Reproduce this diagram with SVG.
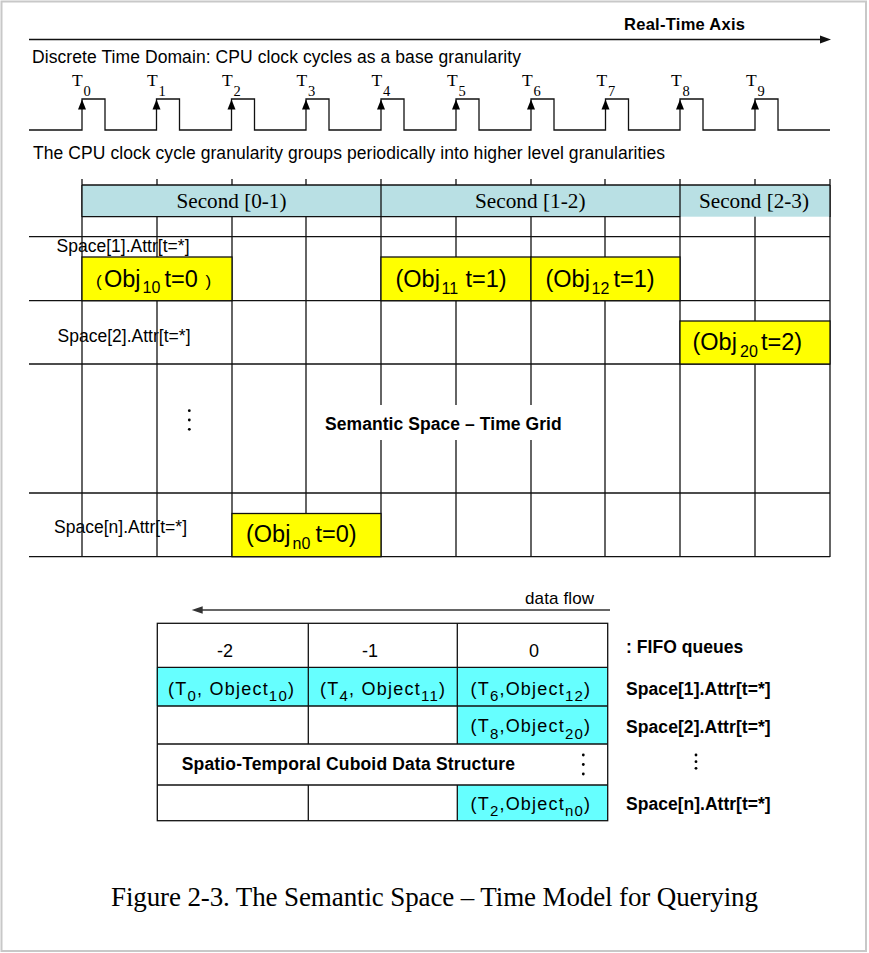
<svg xmlns="http://www.w3.org/2000/svg" xmlns:xlink="http://www.w3.org/1999/xlink" width="869" height="953" viewBox="0 0 869 953">
<style>
.sans{font-family:"Liberation Sans",Arial,sans-serif;fill:#000}
.bold{font-family:"Liberation Sans",Arial,sans-serif;font-weight:bold;fill:#000}
.serif{font-family:"Liberation Serif","Times New Roman",serif;fill:#000}
.ln{stroke:#111;stroke-width:1.3;fill:none}
.yel{fill:#ffff00;stroke:#111;stroke-width:1.3}
.cy{fill:#66ffff}
.obj{font-family:"Liberation Sans",Arial,sans-serif;font-size:23.5px;fill:#000}
.osub{font-size:16px}
.sub{font-size:15px}
.fifo{font-family:"Liberation Sans",Arial,sans-serif;font-size:18px;fill:#000}
</style>
<defs>
<path id="clkArrow" d="M0,99.5 L-4,109.5 L4,109.5 Z" fill="#000"/>
</defs>
<rect x="0" y="0" width="869" height="953" fill="#ffffff"/>
<rect x="1.5" y="1.5" width="864.5" height="949.5" fill="#ffffff" stroke="#c8c8c8" stroke-width="2"/>

<g id="realtime-axis">
<text class="bold" x="624" y="30" font-size="16.5" textLength="121">Real-Time Axis</text>
<line x1="29" y1="39.5" x2="822" y2="39.5" stroke="#111" stroke-width="1.4"/>
<polygon points="831,39.5 820,35.6 820,43.4" fill="#111"/>
</g>

<g id="clock">
<text class="sans" x="32" y="63.3" font-size="17.5" textLength="489">Discrete Time Domain: CPU clock cycles as a base granularity</text>
<path class="ln" d="M29,130 H82 V99 H105 V130 H156.5 V99 H179.5 V130 H231.5 V99 H254.5 V130 H306 V99 H329 V130 H381 V99 H404 V130 H456 V99 H479 V130 H531 V99 H554 V130 H605.5 V99 H628.5 V130 H680 V99 H703 V130 H755 V99 H778 V130 H830"/>
<use xlink:href="#clkArrow" x="82"/>
<use xlink:href="#clkArrow" x="156.5"/>
<use xlink:href="#clkArrow" x="231.5"/>
<use xlink:href="#clkArrow" x="306"/>
<use xlink:href="#clkArrow" x="381"/>
<use xlink:href="#clkArrow" x="456"/>
<use xlink:href="#clkArrow" x="531"/>
<use xlink:href="#clkArrow" x="605.5"/>
<use xlink:href="#clkArrow" x="680"/>
<use xlink:href="#clkArrow" x="755"/>
<text class="serif" font-size="17.5"><tspan x="72" y="85.5">T</tspan><tspan x="83.5" y="95.5" font-size="14.5">0</tspan></text>
<text class="serif" font-size="17.5"><tspan x="147" y="85.5">T</tspan><tspan x="158.5" y="95.5" font-size="14.5">1</tspan></text>
<text class="serif" font-size="17.5"><tspan x="222" y="85.5">T</tspan><tspan x="233.5" y="95.5" font-size="14.5">2</tspan></text>
<text class="serif" font-size="17.5"><tspan x="296.5" y="85.5">T</tspan><tspan x="308" y="95.5" font-size="14.5">3</tspan></text>
<text class="serif" font-size="17.5"><tspan x="371.5" y="85.5">T</tspan><tspan x="383" y="95.5" font-size="14.5">4</tspan></text>
<text class="serif" font-size="17.5"><tspan x="447" y="85.5">T</tspan><tspan x="458.5" y="95.5" font-size="14.5">5</tspan></text>
<text class="serif" font-size="17.5"><tspan x="522" y="85.5">T</tspan><tspan x="533.5" y="95.5" font-size="14.5">6</tspan></text>
<text class="serif" font-size="17.5"><tspan x="596.5" y="85.5">T</tspan><tspan x="608" y="95.5" font-size="14.5">7</tspan></text>
<text class="serif" font-size="17.5"><tspan x="671" y="85.5">T</tspan><tspan x="682.5" y="95.5" font-size="14.5">8</tspan></text>
<text class="serif" font-size="17.5"><tspan x="746" y="85.5">T</tspan><tspan x="757.5" y="95.5" font-size="14.5">9</tspan></text>
<text class="sans" x="33" y="158.5" font-size="17.5" textLength="632">The CPU clock cycle granularity groups periodically into higher level granularities</text>
</g>

<g id="grid">
<text class="sans" x="56.5" y="252.3" font-size="17.5" textLength="133">Space[1].Attr[t=*]</text>
<text class="sans" x="57.5" y="341.7" font-size="17.5" textLength="133">Space[2].Attr[t=*]</text>
<text class="sans" x="54" y="533.3" font-size="17.5" textLength="133">Space[n].Attr[t=*]</text>
<g class="ln">
<line x1="82" y1="179" x2="82" y2="557"/>
<line x1="157" y1="179" x2="157" y2="557"/>
<line x1="232" y1="179" x2="232" y2="557"/>
<line x1="306" y1="179" x2="306" y2="557"/>
<line x1="381" y1="179" x2="381" y2="557"/>
<line x1="456" y1="179" x2="456" y2="557"/>
<line x1="531" y1="179" x2="531" y2="557"/>
<line x1="605" y1="179" x2="605" y2="557"/>
<line x1="680" y1="179" x2="680" y2="557"/>
<line x1="755" y1="179" x2="755" y2="557"/>
<line x1="830" y1="179" x2="830" y2="557"/>
<line x1="29" y1="236.7" x2="830" y2="236.7"/>
<line x1="29" y1="300.7" x2="830" y2="300.7"/>
<line x1="29" y1="364" x2="830" y2="364"/>
<line x1="29" y1="493" x2="830" y2="493"/>
<line x1="29" y1="556.7" x2="830" y2="556.7"/>
</g>
<rect x="82" y="185" width="748" height="31.7" fill="#b9e0e4"/>
<g class="ln">
<line x1="82" y1="185" x2="830" y2="185"/>
<line x1="82" y1="216.7" x2="680" y2="216.7"/>
<line x1="82" y1="185" x2="82" y2="217"/>
<line x1="381" y1="185" x2="381" y2="217"/>
<line x1="680" y1="185" x2="680" y2="217"/>
<line x1="830" y1="185" x2="830" y2="217"/>
</g>
<text class="serif" x="176.5" y="208.3" font-size="20" textLength="110" lengthAdjust="spacingAndGlyphs">Second [0-1)</text>
<text class="serif" x="475" y="208.3" font-size="20" textLength="110.5" lengthAdjust="spacingAndGlyphs">Second [1-2)</text>
<text class="serif" x="699" y="208.3" font-size="20" textLength="110" lengthAdjust="spacingAndGlyphs">Second [2-3)</text>
<rect x="318" y="405" width="250" height="35" fill="#ffffff"/>
<text class="bold" x="325" y="430" font-size="17.5" textLength="236.7">Semantic Space – Time Grid</text>
<circle cx="189.3" cy="410.7" r="1.4" fill="#000"/>
<circle cx="189.3" cy="420" r="1.4" fill="#000"/>
<circle cx="189.3" cy="429.3" r="1.4" fill="#000"/>
</g>

<g id="obj10">
<rect class="yel" x="82" y="257" width="150" height="43.7"/>
<text class="obj"><tspan x="96" y="286.7" font-size="17">(</tspan><tspan x="104" y="286.7">Obj</tspan><tspan class="osub" x="142.5" y="293.3">10</tspan><tspan x="164.5" y="286.7">t=0</tspan><tspan x="205.5" y="286.7" font-size="17">)</tspan></text>
</g>
<g id="obj11">
<rect class="yel" x="381" y="257" width="150" height="43.7"/>
<text class="obj"><tspan x="395.5" y="287.3">(Obj</tspan><tspan class="osub" x="441.5" y="294">11</tspan><tspan x="465.5" y="287.3">t=1)</tspan></text>
</g>
<g id="obj12">
<rect class="yel" x="531" y="257" width="149" height="43.7"/>
<text class="obj"><tspan x="545.5" y="287.3">(Obj</tspan><tspan class="osub" x="591.5" y="294">12</tspan><tspan x="613.5" y="287.3">t=1)</tspan></text>
</g>
<g id="obj20">
<rect class="yel" x="680" y="321" width="150" height="43"/>
<text class="obj"><tspan x="692.5" y="350">(Obj</tspan><tspan class="osub" x="740" y="356.7">20</tspan><tspan x="761" y="350">t=2)</tspan></text>
</g>
<g id="objn0">
<rect class="yel" x="232" y="513.5" width="149" height="43.2"/>
<text class="obj"><tspan x="246" y="542.3">(Obj</tspan><tspan class="osub" x="292.5" y="549">n0</tspan><tspan x="315.5" y="542.3">t=0)</tspan></text>
</g>

<g id="dataflow">
<line x1="202" y1="610" x2="610" y2="610" stroke="#333" stroke-width="1.4"/>
<polygon points="191.7,610 202.7,606.2 202.7,613.8" fill="#333"/>
<text class="sans" x="525" y="604" font-size="17" textLength="69">data flow</text>
</g>

<g id="fifo-table">
<rect class="cy" x="156.5" y="667.3" width="451.2" height="38.7"/>
<rect class="cy" x="457.3" y="706" width="150.4" height="38"/>
<rect class="cy" x="457.3" y="785" width="150.4" height="35.7"/>
<g class="ln">
<rect x="157.3" y="623.3" width="450.4" height="197.4"/>
<line x1="157.3" y1="667.3" x2="607.7" y2="667.3"/>
<line x1="157.3" y1="706" x2="607.7" y2="706"/>
<line x1="157.3" y1="744" x2="607.7" y2="744"/>
<line x1="157.3" y1="785" x2="607.7" y2="785"/>
<line x1="308.3" y1="623.3" x2="308.3" y2="744"/>
<line x1="457.3" y1="623.3" x2="457.3" y2="744"/>
<line x1="308.3" y1="785" x2="308.3" y2="820.7"/>
<line x1="457.3" y1="785" x2="457.3" y2="820.7"/>
</g>
<text class="fifo" x="217" y="657.3">-2</text>
<text class="fifo" x="362" y="657.3">-1</text>
<text class="fifo" x="529" y="657.3">0</text>
<text class="fifo" x="168" y="694.5" textLength="126">(T<tspan class="sub" dy="6.5">0</tspan><tspan dy="-6.5">, Object</tspan><tspan class="sub" dy="6.5">10</tspan><tspan dy="-6.5">)</tspan></text>
<text class="fifo" x="320" y="694.5" textLength="125">(T<tspan class="sub" dy="6.5">4</tspan><tspan dy="-6.5">, Object</tspan><tspan class="sub" dy="6.5">11</tspan><tspan dy="-6.5">)</tspan></text>
<text class="fifo" x="470.5" y="694.5" textLength="119.5">(T<tspan class="sub" dy="6.5">6</tspan><tspan dy="-6.5">,Object</tspan><tspan class="sub" dy="6.5">12</tspan><tspan dy="-6.5">)</tspan></text>
<text class="fifo" x="470.5" y="732" textLength="119.5">(T<tspan class="sub" dy="6.5">8</tspan><tspan dy="-6.5">,Object</tspan><tspan class="sub" dy="6.5">20</tspan><tspan dy="-6.5">)</tspan></text>
<text class="bold" x="181.7" y="770" font-size="17.5" textLength="333.3">Spatio-Temporal Cuboid Data Structure</text>
<circle cx="583.3" cy="755" r="1.4" fill="#000"/>
<circle cx="583.3" cy="764.5" r="1.4" fill="#000"/>
<circle cx="583.3" cy="774" r="1.4" fill="#000"/>
<text class="fifo" x="470.5" y="809.5" textLength="119.5">(T<tspan class="sub" dy="6.5">2</tspan><tspan dy="-6.5">,Object</tspan><tspan class="sub" dy="6.5">n0</tspan><tspan dy="-6.5">)</tspan></text>
</g>

<g id="fifo-labels">
<text class="bold" x="626" y="653.3" font-size="17.5" textLength="117.3">: FIFO queues</text>
<text class="bold" x="626" y="695" font-size="17.5" textLength="144.7">Space[1].Attr[t=*]</text>
<text class="bold" x="626" y="733.3" font-size="17.5" textLength="144.7">Space[2].Attr[t=*]</text>
<circle cx="696" cy="755" r="1.4" fill="#000"/>
<circle cx="696" cy="761.7" r="1.4" fill="#000"/>
<circle cx="696" cy="768.3" r="1.4" fill="#000"/>
<text class="bold" x="626" y="810" font-size="17.5" textLength="144.7">Space[n].Attr[t=*]</text>
</g>

<g id="caption">
<text class="serif" x="111" y="906" font-size="27" textLength="647">Figure 2-3. The Semantic Space – Time Model for Querying</text>
</g>
</svg>
